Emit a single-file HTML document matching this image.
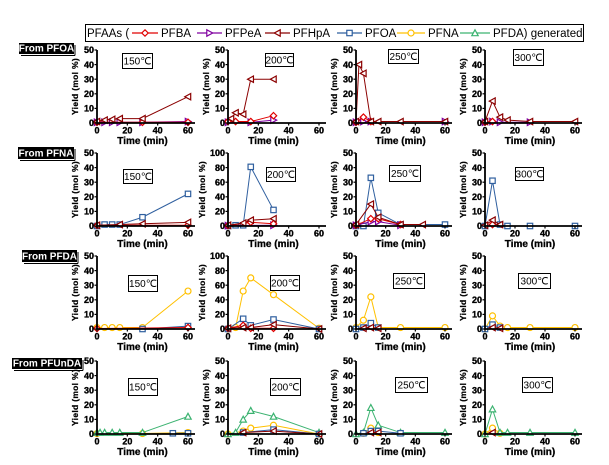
<!DOCTYPE html>
<html><head><meta charset="utf-8">
<style>
html,body{margin:0;padding:0;background:#fff;}
svg{display:block;font-family:"Liberation Sans",Arial,sans-serif;}
</style></head><body>
<svg id="s" width="609" height="465" viewBox="0 0 609 465" xmlns="http://www.w3.org/2000/svg"></svg>
<script>
const C={BA:'#e00000',PE:'#8000a0',HP:'#8b0000',OA:'#2f5f9f',NA:'#ffc000',DA:'#3cb371'};
const MK={BA:'dia',PE:'rtri',HP:'ltri',OA:'sq',NA:'circ',DA:'utri'};
let o='';
function marker(t,x,y,c){
 const r=3.2;
 if(t==='sq')return `<rect x="${x-2.7}" y="${y-2.7}" width="5.4" height="5.4" fill="#fff" stroke="${c}" stroke-width="1.2"/>`;
 if(t==='circ')return `<circle cx="${x}" cy="${y}" r="3" fill="#fff" stroke="${c}" stroke-width="1.2"/>`;
 let p;
 if(t==='dia')p=[[x,y-r],[x+r,y],[x,y+r],[x-r,y]];
 if(t==='rtri')p=[[x-2.7,y-r],[x+r,y],[x-2.7,y+r]];
 if(t==='ltri')p=[[x+2.7,y-r],[x-r,y],[x+2.7,y+r]];
 if(t==='utri')p=[[x,y-r],[x+r,y+2.7],[x-r,y+2.7]];
 return `<polygon points="${p.map(a=>a.join(',')).join(' ')}" fill="#fff" stroke="${c}" stroke-width="1.2"/>`;
}
o+=`<rect x="85.5" y="24.5" width="498" height="17" fill="#fff" stroke="#000" stroke-width="1"/>`;
o+=`<text x="87" y="37" font-size="11.5">PFAAs (</text>`;
const leg=[['BA',132,158,'PFBA'],['PE',197,222,'PFPeA'],['HP',265,290,'PFHpA'],['OA',337,362,'PFOA'],['NA',397,425,'PFNA'],['DA',460,490,'PFDA) generated']];
leg.forEach(l=>{o+=`<line x1="${l[1]}" y1="33" x2="${l[2]}" y2="33" stroke="${C[l[0]]}" stroke-width="1.2"/>`+marker(MK[l[0]],(l[1]+l[2])/2,33,C[l[0]]);
 o+=`<text x="${l[2]+3}" y="37" font-size="11.5">${l[3]}</text>`;});
const RL=[[19,43,74,54,'From PFOA'],[18,147,74,159,'From PFNA'],[22,250,77,262,'From PFDA'],[12,358,82,369,'From PFUnDA']];
RL.forEach(r=>{o+=`<rect x="${r[0]}" y="${r[1]}" width="${r[2]-r[0]}" height="${r[3]-r[1]}" fill="#000"/>`;
 o+=`<line x1="${r[0]+2}" y1="${r[3]+1.5}" x2="${r[2]+1}" y2="${r[3]+1.5}" stroke="#000" stroke-width="1"/><line x1="${r[2]+1}" y1="${r[1]+2}" x2="${r[2]+1}" y2="${r[3]+1.5}" stroke="#000"/>`;
 o+=`<text x="${(r[0]+r[2])/2}" y="${r[3]-2.5}" font-size="10" font-weight="bold" fill="#fff" text-anchor="middle">${r[4]}</text>`;});
const X0=[97,228,356,485],W=[91,91,89,90],T=[50,153,256,361],H=73;
const TB=[[[122,53,152,68],[265,53,293,66],[388,49,418,63],[513,49,543,65]],
[[123,169,152,183],[266,167,295,181],[389,165,420,181],[515,167,543,180]],
[[128,275,157,291],[270,275,299,290],[393,273,424,288],[518,273,550,288]],
[[128,378,157,395],[270,378,300,395],[395,377,427,392],[522,377,552,392]]];
const temps=['150℃','200℃','250℃','300℃'];
const D=[
[{HP:[[0,1],[5,2],[10,2.5],[15,3],[30,3],[60,18]],PE:[[0,.5],[5,.5],[10,.5],[15,.5],[30,.5],[60,1]],BA:[[0,.5],[30,.5],[60,.5]]},
 {HP:[[2,3],[5,7],[10,6],[15,30],[30,30]],BA:[[0,1],[5,1],[15,1],[30,5]],PE:[[0,.5],[15,.5],[30,2]]},
 {HP:[[0,1],[2,40],[5,34],[10,1],[15,1],[30,1],[60,1]],BA:[[0,.5],[5,4],[10,1]],PE:[[0,.5],[2,1],[5,1],[10,1],[60,1]]},
 {HP:[[0,1],[5,15],[10,4],[15,2],[30,1],[60,1]],PE:[[0,.5],[5,1],[10,.5],[30,.5]],BA:[[0,.5],[5,1]]}],
[{OA:[[0,0],[5,1],[10,1],[15,1],[30,6],[60,22]],HP:[[0,.5],[15,1],[30,1.5],[60,2.5]],BA:[[0,.5],[60,.5]]},
 {OA:[[0,0],[5,1],[10,1],[15,81],[30,22]],HP:[[0,1],[10,4],[15,8],[30,10]],BA:[[0,.5],[15,5],[30,3]],PE:[[0,.5],[30,1]]},
 {OA:[[0,0],[5,0],[10,33],[15,9],[30,1],[60,1]],HP:[[0,1],[10,15],[15,6],[30,1],[45,1]],BA:[[0,.5],[10,5],[15,5],[30,1]],PE:[[0,.5],[10,3],[15,3],[30,.5]]},
 {OA:[[0,0],[5,31],[10,1],[15,0],[30,0],[60,0]],HP:[[0,.5],[5,4],[10,1]],BA:[[5,1]]}],
[{NA:[[0,1],[5,1],[10,1],[15,1],[30,1],[60,26]],OA:[[30,0],[60,2]],BA:[[0,.3],[60,1]]},
 {NA:[[0,0],[5,2],[10,52],[15,70],[30,47],[60,1]],OA:[[0,0],[10,14],[15,5],[30,13],[60,0]],HP:[[0,1],[10,2],[15,2],[30,6],[60,0]],BA:[[0,1],[10,5],[15,1],[30,1]]},
 {NA:[[0,1],[5,6],[10,22],[15,1],[30,1],[60,1]],OA:[[0,0],[5,1],[10,4],[15,1]],HP:[[5,.5],[10,1],[15,.5]]},
 {NA:[[0,0],[5,9],[10,2],[15,1],[30,1],[60,1]],OA:[[0,0],[5,3],[10,1]],HP:[[5,1],[10,.5]]}],
[{DA:[[0,1],[2,1],[5,1],[10,1],[15,1],[30,1],[60,12]],NA:[[0,.3],[30,.3],[60,1]],OA:[[50,.5],[60,.5]]},
 {DA:[[0,0],[5,1],[10,10],[15,16],[30,12],[60,1]],NA:[[0,0],[10,2],[15,4],[30,6],[60,0]],OA:[[10,1],[30,3],[60,0]],HP:[[10,1],[30,2],[60,0]]},
 {DA:[[0,0],[5,1],[10,18],[15,6],[30,1],[60,1]],NA:[[5,.5],[10,4],[15,1]],OA:[[5,.5],[10,2],[15,2],[30,.5]],HP:[[10,1],[15,1]]},
 {DA:[[0,0],[5,17],[10,1],[15,1],[30,1],[60,1]],NA:[[0,0],[5,4],[10,.5]],HP:[[5,1]]}]];
for(let r=0;r<4;r++)for(let c=0;c<4;c++){
 const x0=X0[c],w=W[c],top=T[r],bot=top+H;
 const ymax=((r==1||r==2)&&c==1)?100:50;
 const sx=t=>x0+t/60*w, sy=v=>bot-v/ymax*H;
 const d=D[r][c];
 ['NA','DA','OA','PE','BA','HP'].forEach(k=>{if(!d[k])return;
  const pts=d[k].map(p=>[sx(p[0]),sy(p[1])]);
  o+=`<polyline points="${pts.map(p=>p.join(',')).join(' ')}" fill="none" stroke="${C[k]}" stroke-width="1"/>`;
  pts.forEach(p=>o+=marker(MK[k],p[0],p[1],C[k]));});
 o+=`<path d="M${x0} ${top} V${bot} H${x0+w+7}" fill="none" stroke="#000" stroke-width="1.8"/>`;
 for(let i=0;i<=5;i++){const v=ymax/5*i,y=sy(v);
  o+=`<line x1="${x0-2.5}" y1="${y}" x2="${x0}" y2="${y}" stroke="#000" stroke-width="1.2"/>`;
  o+=`<text x="${x0-3}" y="${y+3.2}" font-size="9" font-weight="bold" stroke="#000" stroke-width="0.35" text-anchor="end">${v}</text>`;}
 [0,20,40,60].forEach(t=>{const x=sx(t);
  o+=`<line x1="${x}" y1="${bot}" x2="${x}" y2="${bot+2.5}" stroke="#000" stroke-width="1.2"/>`;
  o+=`<text x="${x}" y="${bot+10.5}" font-size="9" font-weight="bold" stroke="#000" stroke-width="0.35" text-anchor="middle">${t}</text>`;});
 o+=`<text x="${x0+w/2}" y="${bot+21}" font-size="10" font-weight="bold" stroke="#000" stroke-width="0.3" text-anchor="middle">Time (min)</text>`;
 const yl=x0-(ymax==100?23:19);
 o+=`<text transform="translate(${yl},${top+H/2}) rotate(-90)" font-size="8.5" font-weight="bold" stroke="#000" stroke-width="0.25" letter-spacing="0.3" text-anchor="middle">Yield (mol %)</text>`;
 const b=TB[r][c];
 o+=`<rect x="${b[0]+.5}" y="${b[1]+.5}" width="${b[2]-b[0]}" height="${b[3]-b[1]}" fill="#fff" stroke="#000" stroke-width="1"/>`;
 o+=`<text x="${(b[0]+b[2])/2+.5}" y="${(b[1]+b[3])/2+4}" font-size="10" text-anchor="middle">${temps[c]}</text>`;
}
document.getElementById('s').innerHTML=o;
</script>
</body></html>
